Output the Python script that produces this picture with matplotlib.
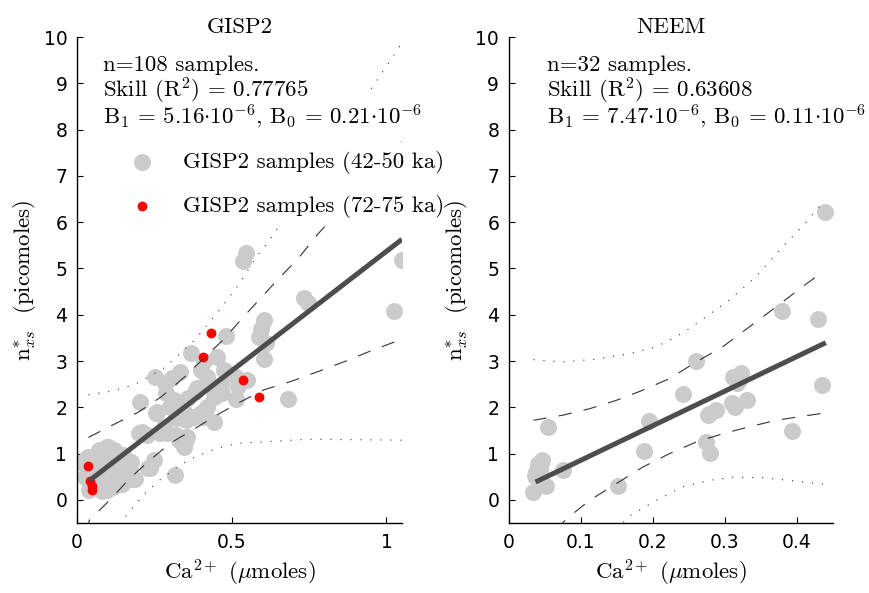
import numpy as np
import matplotlib
matplotlib.use("Agg")
import matplotlib.pyplot as plt

plt.rcParams["mathtext.fontset"] = "cm"
plt.rcParams["font.family"] = ["DejaVu Sans"]

SERIF = ["cmr10", "DejaVu Serif"]
GRAY = "#cbcbcb"
FIT = "#4d4d4d"
TXT = 16.5

# GISP2 samples (42-50 ka)
gisp_ca = [0.545, 0.538, 0.735, 0.746, 1.049, 1.025, 0.605, 0.594, 0.589, 0.61,
           0.605, 0.681, 0.513, 0.48, 0.367, 0.453, 0.40, 0.486, 0.437, 0.519,
           0.443, 0.443, 0.378, 0.253, 0.307, 0.334, 0.475, 0.513, 0.205, 0.259,
           0.286, 0.313, 0.345, 0.351, 0.40, 0.389, 0.464, 0.21, 0.226, 0.28,
           0.291, 0.329, 0.356, 0.345, 0.248, 0.237, 0.318, 0.161, 0.118, 0.096,
           0.037, 0.02, 0.053, 0.075, 0.096, 0.118, 0.161, 0.178, 0.145, 0.085,
           0.14, 0.042, 0.026, 0.029, 0.10, 0.148, 0.175, 0.2, 0.267, 0.256,
           0.321, 0.348, 0.321, 0.381, 0.419, 0.408, 0.283, 0.045, 0.083, 0.116,
           0.159, 0.186, 0.04, 0.116, 0.072, 0.229, 0.06, 0.13, 0.09, 0.065,
           0.42, 0.36, 0.30, 0.41, 0.47, 0.55, 0.08, 0.05, 0.105, 0.17]
gisp_n = [5.34, 5.16, 4.36, 4.26, 5.18, 4.09, 3.89, 3.69, 3.52, 3.39,
          3.05, 2.19, 2.19, 3.53, 3.17, 3.08, 2.81, 2.74, 2.45, 2.45,
          2.23, 1.69, 1.80, 2.66, 2.63, 2.77, 2.81, 2.66, 2.12, 1.90,
          2.30, 2.16, 1.90, 1.72, 1.87, 2.41, 2.48, 1.47, 1.40, 1.58,
          1.44, 1.29, 1.36, 1.15, 0.86, 0.68, 0.53, 0.79, 1.07, 1.15,
          0.93, 0.79, 0.64, 0.35, 0.21, 0.49, 0.46, 0.46, 0.35, 0.79,
          0.93, 0.35, 0.49, 0.89, 1.15, 0.97, 0.82, 1.44, 1.44, 1.87,
          1.76, 1.25, 1.40, 2.34, 2.01, 1.80, 2.52, 0.86, 0.35, 0.28,
          0.42, 0.46, 0.21, 0.75, 1.07, 0.68, 0.55, 0.60, 0.45, 0.95,
          2.65, 2.20, 2.00, 3.00, 2.30, 2.60, 0.20, 0.30, 0.90, 0.65]

# GISP2 samples (72-75 ka)
gisp_old_ca = [0.034, 0.042, 0.048, 0.048, 0.432, 0.408, 0.538, 0.589]
gisp_old_n = [0.74, 0.41, 0.31, 0.22, 3.61, 3.08, 2.59, 2.22]

# NEEM samples
neem_ca = [0.439, 0.379, 0.429, 0.434, 0.393, 0.26, 0.241, 0.311, 0.322, 0.316,
           0.288, 0.277, 0.314, 0.33, 0.274, 0.279, 0.195, 0.187, 0.151, 0.054,
           0.075, 0.046, 0.04, 0.036, 0.051, 0.033, 0.043, 0.044, 0.038, 0.32,
           0.278, 0.31]
neem_n = [6.23, 4.09, 3.91, 2.49, 1.49, 3.00, 2.28, 2.66, 2.74, 2.53,
          1.94, 1.83, 2.01, 2.15, 1.24, 1.01, 1.71, 1.06, 0.31, 1.57,
          0.65, 0.87, 0.78, 0.51, 0.29, 0.18, 0.64, 0.80, 0.60, 2.60,
          1.85, 2.10]

# regression coefficients (x1e-6) and fit ranges
gisp_b1, gisp_b0 = 5.16, 0.21
neem_b1, neem_b0 = 7.47, 0.11
gisp_fit_x = [0.04, 1.05]
neem_fit_x = [0.037, 0.44]

gisp_lines = ["n=108 samples.", "Skill (R$^2$) = 0.77765",
              r"B$_1$ = 5.16$\cdot$10$^{-6}$, B$_0$ = 0.21$\cdot$10$^{-6}$"]
neem_lines = ["n=32 samples.", "Skill (R$^2$) = 0.63608",
              r"B$_1$ = 7.47$\cdot$10$^{-6}$, B$_0$ = 0.11$\cdot$10$^{-6}$"]

# bands
gisp_up_dash_x = [0.037, 0.116, 0.197, 0.273, 0.343, 0.473, 0.54, 0.594, 0.654, 0.713, 0.778, 1.05]
gisp_up_dash_y = [1.35, 1.62, 1.89, 2.23, 2.63, 3.46, 3.97, 4.36, 4.80, 5.20, 5.74, 7.75]
gisp_lo_dash_x = [0.03, 0.04, 0.105, 0.17, 0.229, 0.30, 0.376, 0.451, 0.529, 0.605, 0.692, 0.778, 0.865, 0.946, 1.049]
gisp_lo_dash_y = [-0.7, -0.44, -0.01, 0.46, 0.82, 1.22, 1.52, 1.83, 2.12, 2.38, 2.56, 2.77, 2.99, 3.21, 3.47]
gisp_up_dot_x = [0.037, 0.105, 0.17, 0.197, 0.284, 0.381, 0.464, 0.527, 0.578, 0.62, 1.05]
gisp_up_dot_y = [2.27, 2.34, 2.46, 2.53, 2.86, 3.46, 4.13, 4.69, 5.24, 5.59, 9.87]
gisp_lo_dot_x = [0.13, 0.159, 0.18, 0.224, 0.273, 0.332, 0.386, 0.451, 0.516, 0.545, 0.746, 1.05]
gisp_lo_dot_y = [-0.75, -0.34, -0.17, 0.17, 0.46, 0.75, 0.94, 1.11, 1.22, 1.23, 1.31, 1.29]

neem_up_dash_x = [0.034, 0.075, 0.112, 0.149, 0.186, 0.223, 0.26, 0.297, 0.334, 0.371, 0.408, 0.438]
neem_up_dash_y = [1.72, 1.83, 1.97, 2.15, 2.37, 2.62, 2.98, 3.31, 3.74, 4.17, 4.61, 4.95]
neem_lo_dash_x = [0.065, 0.08, 0.112, 0.149, 0.186, 0.223, 0.26, 0.297, 0.334, 0.371, 0.435]
neem_lo_dash_y = [-0.65, -0.41, -0.01, 0.35, 0.71, 1.00, 1.25, 1.43, 1.58, 1.72, 1.87]
neem_up_dot_x = [0.034, 0.075, 0.121, 0.168, 0.205, 0.241, 0.274, 0.306, 0.343, 0.38, 0.412, 0.438]
neem_up_dot_y = [3.03, 2.98, 3.04, 3.16, 3.31, 3.60, 3.96, 4.32, 4.82, 5.47, 5.98, 6.47]
neem_lo_dot_x = [0.15, 0.165, 0.2, 0.241, 0.278, 0.311, 0.352, 0.389, 0.438]
neem_lo_dot_y = [-0.65, -0.37, -0.05, 0.28, 0.42, 0.49, 0.48, 0.42, 0.34]


def style_axes(ax, xticks, xticklabels, xmax):
    ax.set_xlim(0, xmax)
    ax.set_ylim(-0.5, 10)
    ax.set_yticks(range(0, 11))
    ax.set_xticks(xticks)
    ax.set_xticklabels(xticklabels)
    for s in ["top", "right"]:
        ax.spines[s].set_visible(False)
    for s in ["left", "bottom"]:
        ax.spines[s].set_linewidth(1.0)
    ax.tick_params(direction="in", length=4, width=0.8, labelsize=13.5, pad=7)
    ax.set_xlabel(r"Ca$^{2+}$ ($\mu$moles)", fontsize=TXT, family=SERIF, labelpad=4)
    ax.set_ylabel(r"n$^{*}_{xs}$  (picomoles)", fontsize=TXT, family=SERIF, labelpad=4)


def draw_bands(ax, ud, ld, uo, lo):
    dash = (0, (12, 11))
    dot = (0, (1, 8))
    ax.plot(ud[0], ud[1], color="#333333", lw=0.8, ls=dash, zorder=3)
    ax.plot(ld[0], ld[1], color="#333333", lw=0.8, ls=dash, zorder=3)
    ax.plot(uo[0], uo[1], color="#333333", lw=0.8, ls=dot, zorder=3)
    ax.plot(lo[0], lo[1], color="#333333", lw=0.8, ls=dot, zorder=3)


def stats_text(ax, x, lines):
    # white backing boxes first, then the text on top of all of them
    for yy, s in zip([0.930, 0.8765, 0.821], lines):
        ax.text(x, yy, s, transform=ax.transAxes, ha="left", va="baseline",
                fontsize=TXT, family=SERIF, color="white", zorder=5,
                bbox=dict(facecolor="white", edgecolor="none", pad=6))
        ax.text(x, yy, s, transform=ax.transAxes, ha="left", va="baseline",
                fontsize=TXT, family=SERIF, color="black", zorder=7)


fig = plt.figure(figsize=(8.7, 5.93), dpi=100)
ax1 = fig.add_axes([0.0885, 0.118, 0.3735, 0.8196])
ax2 = fig.add_axes([0.585, 0.118, 0.3725, 0.8196])

# GISP2 panel
ax1.scatter(gisp_ca, gisp_n, s=150, color=GRAY, lw=0, zorder=2,
            label="GISP2 samples (42-50 ka)")
ax1.scatter(gisp_old_ca, gisp_old_n, s=50, color="red", lw=0, zorder=2.5,
            label="GISP2 samples (72-75 ka)")
draw_bands(ax1, (gisp_up_dash_x, gisp_up_dash_y), (gisp_lo_dash_x, gisp_lo_dash_y),
           (gisp_up_dot_x, gisp_up_dot_y), (gisp_lo_dot_x, gisp_lo_dot_y))
fx = np.array(gisp_fit_x)
ax1.plot(fx, gisp_b1 * fx + gisp_b0, color=FIT, lw=3.6, solid_capstyle="butt", zorder=4)
style_axes(ax1, [0, 0.5, 1], ["0", "0.5", "1"], 1.05)
ax1.set_title("GISP2", fontsize=TXT, family=SERIF, pad=3)
stats_text(ax1, 0.08, gisp_lines)
leg = ax1.legend(loc="upper left", bbox_to_anchor=(0.086, 0.804), frameon=True,
                 fancybox=False, framealpha=1, edgecolor="white",
                 prop={"family": SERIF, "size": TXT}, labelspacing=0.95,
                 handlelength=1.6, handletextpad=1.0, borderpad=0.3)
leg.set_zorder(6)

# NEEM panel
ax2.scatter(neem_ca, neem_n, s=150, color=GRAY, lw=0, zorder=2)
draw_bands(ax2, (neem_up_dash_x, neem_up_dash_y), (neem_lo_dash_x, neem_lo_dash_y),
           (neem_up_dot_x, neem_up_dot_y), (neem_lo_dot_x, neem_lo_dot_y))
fx = np.array(neem_fit_x)
ax2.plot(fx, neem_b1 * fx + neem_b0, color=FIT, lw=3.6, solid_capstyle="butt", zorder=4)
style_axes(ax2, [0, 0.1, 0.2, 0.3, 0.4], ["0", "0.1", "0.2", "0.3", "0.4"], 0.45)
ax2.set_title("NEEM", fontsize=TXT, family=SERIF, pad=3)
stats_text(ax2, 0.117, neem_lines)

fig.savefig("out.png", dpi=100)
